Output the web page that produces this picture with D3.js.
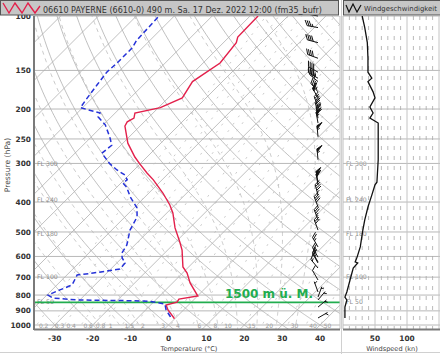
<!DOCTYPE html>
<html>
<head>
<meta charset="utf-8">
<script src="https://cdn.jsdelivr.net/npm/d3@7"></script>
<style>
body { margin: 0; background: #fff; }
svg { display: block; }
text { font-family: "DejaVu Sans", sans-serif; }
</style>
</head>
<body>
<svg id="chart" width="440" height="354"></svg>
<script>
// sounding 06610 Payerne, 17.12.2022 12 UTC
const tempP = [100, 117, 122, 142, 163, 184, 198, 206, 214, 220, 227, 258, 286, 300, 322, 339, 374, 409, 434, 485, 539, 572, 649, 679, 731, 806, 824, 843, 862, 894, 949, 955];
const tempT = [-57.9, -57.7, -56.6, -55.5, -57.9, -56.3, -59.5, -64.8, -63.7, -64.5, -64.0, -58.7, -53.2, -50.3, -45.8, -42.3, -36.3, -31.3, -28.4, -23.9, -18.9, -16.2, -11.5, -8.8, -5.4, 0.1, -4.1, -3.8, -5.9, -4.1, -0.4, -0.2];

const dewP = [101, 120, 127, 142, 152, 167, 183, 198, 206, 212, 225, 248, 262, 278, 300, 315, 327, 339, 347, 358, 385, 418, 447, 475, 493, 551, 585, 607, 630, 659, 669, 679, 689, 742, 770, 800, 818, 830, 834, 838, 855, 894, 935, 955];
const dewT = [-84.0, -83.5, -82.7, -82.7, -83.0, -82.2, -81.4, -80.6, -74.0, -73.5, -69.5, -64.8, -62.4, -62.9, -58.2, -54.5, -51.1, -49.2, -49.5, -47.4, -43.9, -39.2, -36.8, -35.8, -35.2, -32.1, -31.3, -29.9, -27.8, -27.6, -30.5, -33.6, -37.3, -36.0, -37.9, -39.7, -37.6, -30.7, -17.3, -11.2, -6.5, -4.6, -2.0, -0.9];

const windP = [100, 109, 122, 137, 152, 159, 163, 176, 184, 197, 206, 214, 222, 246, 292, 345, 352, 380, 415, 457, 493, 559, 603, 625, 630, 654, 715, 782, 812, 830, 875, 949];
const windSpd = [30, 34, 38, 39, 39, 45, 39, 47, 50, 42, 47, 42, 55, 55, 55, 53, 50, 45, 39, 34, 31, 27, 22, 19, 23, 16, 11, 6, 3, 6, 3, 3];
const windDir = [280, 280, 285, 290, 300, 300, 310, 320, 330, 340, 345, 350, 350, 355, 355, 350, 350, 345, 340, 340, 340, 330, 330, 330, 330, 320, 330, 340, 20, 40, 50, 60];

const pLevels = [100, 150, 200, 250, 300, 400, 500, 600, 700, 800, 900, 1000];
const tTicks = [-30, -20, -10, 0, 10, 20, 30, 40];
const spdTicks = [50, 100];
const mixRatios = [0.2, 0.3, 0.4, 0.6, 0.8, 1, 1.5, 2, 3, 4, 6, 8, 10, 15, 20, 30, 40, 50];
const flNames = ["FL 50", "FL 100", "FL 180", "FL 240", "FL 300"];
const flP = [843, 697, 506, 393, 301];
const greenP = 845;
const greenLabel = "1500 m ü. M.";
const title = "06610 PAYERNE (6610-0) 490 m. Sa. 17 Dez. 2022 12:00 (fm35_bufr)";

const svg = d3.select("#chart");

// scales
const y = d3.scaleLog().domain([1000, 100]).range([325, 16]);
const xT = d3.scaleLinear().domain([-30, 40]).range([54.8, 320.1]);
const skewX = (t, p) => xT(t) + (y(1000) - y(p));
const xW = d3.scaleLinear().domain([0, 100]).range([343, 407]);

const plotL = 34, plotR = 340, plotT = 16, plotB = 329;

const defs = svg.append("defs");
defs.append("clipPath").attr("id", "clipMain")
    .append("rect").attr("x", plotL).attr("y", plotT).attr("width", plotR - plotL).attr("height", plotB - plotT);
defs.append("clipPath").attr("id", "clipWind")
    .append("rect").attr("x", 343).attr("y", plotT).attr("width", 97).attr("height", plotB - plotT);

const line = d3.line().x(d => skewX(d[1], d[0])).y(d => y(d[0]));

// thermodynamic helpers for the background lines
const Rd = 287.04, cp = 1005.7, Lv = 2.501e6;
function es(t) { return 6.112 * Math.exp(17.67 * t / (t + 243.5)); }
function satMix(t, p) { const e = es(t); return 0.622 * e / (p - e); }
function tFromMix(w, p) {
    const e = w * p / (622 + w);
    const L = Math.log(e / 6.112);
    return 243.5 * L / (17.67 - L);
}
const pSteps = d3.range(1050, 99, -5);

const grid = svg.append("g").attr("clip-path", "url(#clipMain)");

// isobars
grid.selectAll(".isobar").data(pLevels).enter().append("line")
    .attr("x1", plotL).attr("x2", plotR)
    .attr("y1", d => y(d)).attr("y2", d => y(d))
    .attr("stroke", "#b8b8b8").attr("stroke-width", 1);

// isotherms
grid.selectAll(".iso").data(d3.range(-120, 50, 10)).enter().append("path")
    .attr("d", t => line([[1050, t], [100, t]]))
    .attr("fill", "none").attr("stroke", "#b0b0b0").attr("stroke-width", 0.8);

// dry adiabats
grid.selectAll(".dry").data(d3.range(-40, 200, 10)).enter().append("path")
    .attr("d", th => line(pSteps.map(p => [p, (th + 273.15) * Math.pow(p / 1000, 0.2857) - 273.15])))
    .attr("fill", "none").attr("stroke", "#b0b0b0").attr("stroke-width", 0.8);

// moist adiabats
function moist(t0) {
    let T = t0 + 273.15;
    const pts = [];
    for (let p = 1050; p >= 100; p -= 5) {
        pts.push([p, T - 273.15]);
        const rs = satMix(T - 273.15, p);
        const dTdp = (Rd * T + Lv * rs) / (p * (cp + Lv * Lv * rs * 0.622 / (Rd * T * T)));
        T -= dTdp * 5;
    }
    return pts;
}
grid.selectAll(".moist").data(d3.range(-15, 40, 5)).enter().append("path")
    .attr("d", t => line(moist(t)))
    .attr("fill", "none").attr("stroke", "#bdbdbd").attr("stroke-width", 0.8)
    .attr("stroke-dasharray", "4,4");

// mixing ratio lines
grid.selectAll(".mix").data(mixRatios).enter().append("path")
    .attr("d", w => line(pSteps.map(p => [p, tFromMix(w, p)])))
    .attr("fill", "none").attr("stroke", "#bbbbbb").attr("stroke-width", 0.8)
    .attr("stroke-dasharray", "2,7");

grid.selectAll(".mixlab").data(mixRatios).enter().append("text")
    .attr("x", w => skewX(tFromMix(w, 1000), 1000) + 7)
    .attr("y", 327.5)
    .attr("text-anchor", "middle")
    .attr("font-size", 6).attr("fill", "#9a9a9a")
    .text(d => d);

// flight levels
flNames.forEach((n, i) => {
    svg.append("text").attr("x", 37).attr("y", y(flP[i]) + 2.2)
        .attr("font-size", 6.2).attr("fill", "#8c8c8c").text(n);
    svg.append("text").attr("x", 346).attr("y", y(flP[i]) + 2.2)
        .attr("font-size", 6.2).attr("fill", "#8c8c8c").text(n);
});

// 1500 m line
svg.append("line").attr("x1", plotL).attr("x2", plotR)
    .attr("y1", y(greenP)).attr("y2", y(greenP))
    .attr("stroke", "#22ad4f").attr("stroke-width", 1.8);
svg.append("text").attr("x", 225).attr("y", y(greenP) - 4.5)
    .attr("font-size", 12).attr("font-weight", "bold").attr("fill", "#22ad4f")
    .text(greenLabel);

// profiles
const prof = svg.append("g").attr("clip-path", "url(#clipMain)");
prof.append("path").datum(tempP.map((p, i) => [p, tempT[i]]))
    .attr("d", line).attr("fill", "none")
    .attr("stroke", "#e3204b").attr("stroke-width", 1.4);
prof.append("path").datum(dewP.map((p, i) => [p, dewT[i]]))
    .attr("d", line).attr("fill", "none")
    .attr("stroke", "#2532d8").attr("stroke-width", 1.5)
    .attr("stroke-dasharray", "5,3");

// wind barbs
function barb(g, x0, y0, dir, spd) {
    const L = 11, r = dir * Math.PI / 180;
    const ux = Math.sin(r), uy = -Math.cos(r);
    const a = 60 * Math.PI / 180;
    const fx = ux * Math.cos(a) - uy * Math.sin(a), fy = ux * Math.sin(a) + uy * Math.cos(a);
    const pt = s => [x0 + ux * s, y0 + uy * s];
    g.append("line").attr("x1", x0).attr("y1", y0)
        .attr("x2", pt(L)[0]).attr("y2", pt(L)[1]);
    let s = Math.round(spd / 5) * 5, pos = L;
    while (s >= 50) {
        const p1 = pt(pos), p2 = pt(pos - 3);
        g.append("polygon").attr("points",
            [p1, [p1[0] + fx * 6, p1[1] + fy * 6], p2].map(d => d.join(",")).join(" "));
        pos -= 4; s -= 50;
    }
    while (s >= 10) {
        const p1 = pt(pos);
        g.append("line").attr("x1", p1[0]).attr("y1", p1[1])
            .attr("x2", p1[0] + fx * 6).attr("y2", p1[1] + fy * 6);
        pos -= 2; s -= 10;
    }
    if (s >= 5) {
        if (pos === L) pos -= 2;
        const p1 = pt(pos);
        g.append("line").attr("x1", p1[0]).attr("y1", p1[1])
            .attr("x2", p1[0] + fx * 3).attr("y2", p1[1] + fy * 3);
    }
}
const barbs = svg.append("g").attr("stroke", "#111").attr("fill", "#111").attr("stroke-width", 1);
windP.forEach((p, i) => barb(barbs, 318, y(p), windDir[i], windSpd[i]));

// axes main
svg.append("line").attr("x1", plotR).attr("x2", plotR).attr("y1", plotT).attr("y2", plotB)
    .attr("stroke", "#c4c4c4");
svg.append("line").attr("x1", plotL).attr("x2", plotL).attr("y1", plotT).attr("y2", plotB + 1)
    .attr("stroke", "#7a7a7a").attr("stroke-width", 2);
svg.append("line").attr("x1", plotL).attr("x2", plotR).attr("y1", plotB + 0.5).attr("y2", plotB + 0.5)
    .attr("stroke", "#7a7a7a").attr("stroke-width", 2);

svg.selectAll(".ylab").data(pLevels).enter().append("text")
    .attr("x", 31).attr("y", d => y(d) + 2.6)
    .attr("text-anchor", "end").attr("font-size", 7.4).attr("font-weight", "bold")
    .attr("fill", "#333").text(d => d);

svg.selectAll(".xlab").data(tTicks).enter().append("text")
    .attr("x", d => xT(d)).attr("y", 340.5)
    .attr("text-anchor", "middle").attr("font-size", 7.4).attr("font-weight", "bold")
    .attr("fill", "#333").text(d => d);

svg.append("text").attr("x", 189).attr("y", 350.5).attr("text-anchor", "middle")
    .attr("font-size", 6.6).attr("fill", "#444").text("Temperature (°C)");
svg.append("text").attr("transform", "translate(10,165) rotate(-90)")
    .attr("text-anchor", "middle").attr("font-size", 7.6).attr("fill", "#444")
    .text("Pressure (hPa)");

// wind panel
const wg = svg.append("g").attr("clip-path", "url(#clipWind)");
wg.selectAll(".wiso").data(pLevels).enter().append("line")
    .attr("x1", 343).attr("x2", 440)
    .attr("y1", d => y(d)).attr("y2", d => y(d))
    .attr("stroke", "#b8b8b8");
wg.selectAll(".wdash").data(d3.range(10, 160, 10).filter(d => d % 50 !== 0)).enter().append("line")
    .attr("x1", d => xW(d)).attr("x2", d => xW(d))
    .attr("y1", plotT).attr("y2", plotB)
    .attr("stroke", "#a8a8a8").attr("stroke-width", 0.8).attr("stroke-dasharray", "4,6");
wg.selectAll(".wsolid").data([50, 100, 150]).enter().append("line")
    .attr("x1", d => xW(d)).attr("x2", d => xW(d))
    .attr("y1", plotT).attr("y2", plotB)
    .attr("stroke", "#c4c4c4");
wg.append("path").datum(windP.map((p, i) => [p, windSpd[i]]))
    .attr("d", d3.line().x(d => xW(d[1])).y(d => y(d[0])))
    .attr("fill", "none").attr("stroke", "#111").attr("stroke-width", 1.3);

svg.append("line").attr("x1", 343).attr("x2", 343).attr("y1", plotT).attr("y2", plotB)
    .attr("stroke", "#bdbdbd");
svg.append("line").attr("x1", 343).attr("x2", 440).attr("y1", plotB + 0.5).attr("y2", plotB + 0.5)
    .attr("stroke", "#7a7a7a").attr("stroke-width", 2);
svg.selectAll(".wlab").data(spdTicks).enter().append("text")
    .attr("x", d => xW(d)).attr("y", 340.5)
    .attr("text-anchor", "middle").attr("font-size", 7.4).attr("font-weight", "bold")
    .attr("fill", "#333").text(d => d);
svg.append("text").attr("x", 392).attr("y", 350.5).attr("text-anchor", "middle")
    .attr("font-size", 6.6).attr("fill", "#444").text("Windspeed (kn)");

// frame lines
svg.append("line").attr("x1", 341.5).attr("x2", 341.5).attr("y1", 0).attr("y2", 354)
    .attr("stroke", "#d0d0d0");
svg.append("line").attr("x1", 0).attr("x2", 440).attr("y1", 352.5).attr("y2", 352.5)
    .attr("stroke", "#d0d0d0");

// title boxes
svg.append("rect").attr("x", 0.5).attr("y", 0.5).attr("width", 338).attr("height", 14.5)
    .attr("fill", "#c6c6c6").attr("stroke", "#555");
svg.append("polyline").attr("points", "3,3 9,13 15,3 22,13 28,3 35,13 40,6")
    .attr("fill", "none").attr("stroke", "#e3204b").attr("stroke-width", 1.4);
svg.append("text").attr("x", 43).attr("y", 12.5).attr("font-size", 8.4).attr("fill", "#333")
    .attr("textLength", 279).attr("lengthAdjust", "spacingAndGlyphs").text(title);

svg.append("rect").attr("x", 343.5).attr("y", 0.5).attr("width", 100).attr("height", 14.5)
    .attr("fill", "#c6c6c6").attr("stroke", "#555");
svg.append("polyline").attr("points", "346,5 349,12 353,4 357,12 361,5")
    .attr("fill", "none").attr("stroke", "#111").attr("stroke-width", 1.2);
svg.append("text").attr("x", 364).attr("y", 10.5).attr("font-size", 7).attr("fill", "#333")
    .attr("textLength", 73).attr("lengthAdjust", "spacingAndGlyphs")
    .text("Windgeschwindigkeit");
</script>
</body>
</html>
